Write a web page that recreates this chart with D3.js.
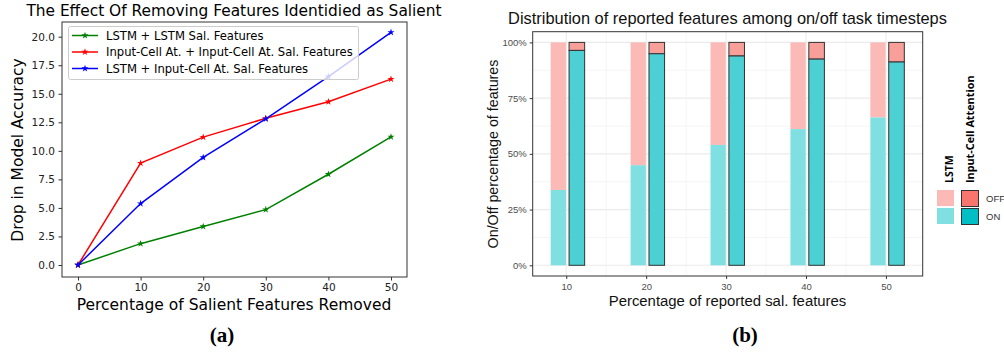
<!DOCTYPE html>
<html>
<head>
<meta charset="utf-8">
<script src="https://cdnjs.cloudflare.com/ajax/libs/d3/7.8.5/d3.min.js"></script>
<style>
body { margin:0; background:#fff; }
svg { display:block; }
</style>
</head>
<body>
<svg id="fig" width="1004" height="353"></svg>
<script>
// ---- data (a) ----
var removed = [0, 10, 20, 30, 40, 50];
var lstmLstm = [0, 1.87, 3.37, 4.85, 7.95, 11.22];
var cellCell = [0, 8.92, 11.2, 12.85, 14.3, 16.28];
var lstmCell = [0, 5.38, 9.42, 12.8, 16.5, 20.38];
var seriesNames = ["LSTM + LSTM Sal. Features", "Input-Cell At. + Input-Cell At. Sal. Features", "LSTM + Input-Cell At. Sal. Features"];
var seriesColors = ["green", "red", "blue"];
var yTicksA = [0, 2.5, 5, 7.5, 10, 12.5, 15, 17.5, 20];

// ---- data (b) ----
var reported = [10, 20, 30, 40, 50];
var lstmOn = [0.338, 0.449, 0.54, 0.611, 0.663];
var cellOn = [0.964, 0.949, 0.939, 0.925, 0.912];
var yTicksB = [0, 0.25, 0.5, 0.75, 1];

var svg = d3.select("#fig");

// ================= chart (a) =================
var x1 = d3.scaleLinear().domain([0, 50]).range([78, 391]);
var y1 = d3.scaleLinear().domain([0, 20]).range([265, 36.7]);
var ga = svg.append("g");

ga.append("text")
  .attr("x", 234).attr("y", 16)
  .attr("text-anchor", "middle")
  .style("font-family", "DejaVu Sans").style("font-size", "15.4px")
  .text("The Effect Of Removing Features Identidied as Salient");

var xAxA = d3.axisBottom(x1).tickValues(removed).tickSize(3.5).tickPadding(3.5).tickFormat(d3.format("d"));
ga.append("g").attr("transform", "translate(0,277)").call(xAxA)
  .call(function(g){ g.select(".domain").remove(); })
  .selectAll("text").style("font-family", "DejaVu Sans").style("font-size", "10.5px").attr("fill", "#222");

var yAxA = d3.axisLeft(y1).tickValues(yTicksA).tickSize(3.5).tickPadding(3.5).tickFormat(d3.format(".1f"));
ga.append("g").attr("transform", "translate(62,0)").call(yAxA)
  .call(function(g){ g.select(".domain").remove(); })
  .selectAll("text").style("font-family", "DejaVu Sans").style("font-size", "10.5px").attr("fill", "#222");
ga.selectAll(".tick line").attr("stroke", "#333");

ga.append("rect")
  .attr("x", 62).attr("y", 22).attr("width", 345).attr("height", 255)
  .attr("fill", "none").attr("stroke", "#333").attr("stroke-width", 1);

ga.append("text")
  .attr("transform", "translate(23,150)rotate(-90)")
  .attr("text-anchor", "middle")
  .style("font-family", "DejaVu Sans").style("font-size", "15.5px")
  .text("Drop in Model Accuracy");
ga.append("text")
  .attr("x", 234).attr("y", 310)
  .attr("text-anchor", "middle")
  .style("font-family", "DejaVu Sans").style("font-size", "15.5px")
  .text("Percentage of Salient Features Removed");

var lineA = d3.line()
  .x(function(d, i){ return x1(removed[i]); })
  .y(function(d){ return y1(d); });
var star = d3.symbol().type(d3.symbolStar).size(16);

[lstmLstm, cellCell, lstmCell].forEach(function(s, k){
  ga.append("path").datum(s)
    .attr("fill", "none").attr("stroke", seriesColors[k]).attr("stroke-width", 1.5)
    .attr("d", lineA);
  ga.selectAll(".m" + k).data(s).enter().append("path")
    .attr("class", "m" + k)
    .attr("transform", function(d, i){ return "translate(" + x1(removed[i]) + "," + y1(d) + ")"; })
    .attr("d", star).attr("fill", seriesColors[k]);
});

// legend (a)
var lg = ga.append("g");
lg.append("rect").attr("x", 68.5).attr("y", 26.5).attr("width", 290).attr("height", 53).attr("rx", 2)
  .attr("fill", "#fff").attr("fill-opacity", 0.8).attr("stroke", "#ccc");
seriesNames.forEach(function(n, k){
  var yy = 35.5 + k * 16.5;
  lg.append("line").attr("x1", 72).attr("x2", 98).attr("y1", yy).attr("y2", yy)
    .attr("stroke", seriesColors[k]).attr("stroke-width", 1.5);
  lg.append("path").attr("transform", "translate(85," + yy + ")").attr("d", star).attr("fill", seriesColors[k]);
  lg.append("text").attr("x", 106).attr("y", yy + 4.2)
    .style("font-family", "DejaVu Sans").style("font-size", "11.6px")
    .text(n);
});

// ================= chart (b) =================
var x2 = d3.scaleLinear().domain([5.8, 54.6]).range([532.7, 922.7]);
var y2 = d3.scaleLinear().domain([-0.048, 1.048]).range([276, 31.7]);
var gb = svg.append("g");

gb.append("text")
  .attr("x", 727.5).attr("y", 24)
  .attr("text-anchor", "middle")
  .style("font-family", "Liberation Sans").style("font-size", "16.4px").attr("fill", "#111")
  .text("Distribution of reported features among on/off task timesteps");

// grid
var minorX = [15, 25, 35, 45];
var minorY = [0.125, 0.375, 0.625, 0.875];
gb.selectAll(".gxm").data(minorX).enter().append("line")
  .attr("x1", function(d){ return x2(d); }).attr("x2", function(d){ return x2(d); })
  .attr("y1", 31.7).attr("y2", 276).attr("stroke", "#f2f2f2").attr("stroke-width", 0.8);
gb.selectAll(".gym").data(minorY).enter().append("line")
  .attr("y1", function(d){ return y2(d); }).attr("y2", function(d){ return y2(d); })
  .attr("x1", 532.7).attr("x2", 922.7).attr("stroke", "#f2f2f2").attr("stroke-width", 0.8);
gb.selectAll(".gx").data(reported).enter().append("line")
  .attr("x1", function(d){ return x2(d); }).attr("x2", function(d){ return x2(d); })
  .attr("y1", 31.7).attr("y2", 276).attr("stroke", "#ebebeb").attr("stroke-width", 1.1);
gb.selectAll(".gy").data(yTicksB).enter().append("line")
  .attr("y1", function(d){ return y2(d); }).attr("y2", function(d){ return y2(d); })
  .attr("x1", 532.7).attr("x2", 922.7).attr("stroke", "#ebebeb").attr("stroke-width", 1.1);

// bars: LSTM (no outline) and Input-Cell Attention (outlined)
var bw = 1.95;
reported.forEach(function(r, i){
  var xa = x2(r - bw), xb = x2(r - 0.04);
  gb.append("rect").attr("x", xa).attr("width", xb - xa)
    .attr("y", y2(1)).attr("height", y2(lstmOn[i]) - y2(1)).attr("fill", "#fbbab6");
  gb.append("rect").attr("x", xa).attr("width", xb - xa)
    .attr("y", y2(lstmOn[i])).attr("height", y2(0) - y2(lstmOn[i])).attr("fill", "#7fdfe1");
  var xc = x2(r + 0.35), xd = x2(r + 0.35 + bw);
  gb.append("rect").attr("x", xc).attr("width", xd - xc)
    .attr("y", y2(1)).attr("height", y2(cellOn[i]) - y2(1))
    .attr("fill", "#f89f99").attr("stroke", "#333").attr("stroke-width", 1);
  gb.append("rect").attr("x", xc).attr("width", xd - xc)
    .attr("y", y2(cellOn[i])).attr("height", y2(0) - y2(cellOn[i]))
    .attr("fill", "#4dd0d4").attr("stroke", "#333").attr("stroke-width", 1);
});

gb.append("rect").attr("x", 532.7).attr("y", 31.7).attr("width", 390).attr("height", 244.3)
  .attr("fill", "none").attr("stroke", "#333").attr("stroke-width", 1);

var xAxB = d3.axisBottom(x2).tickValues(reported).tickSize(3).tickPadding(4);
gb.append("g").attr("transform", "translate(0,276)").call(xAxB)
  .call(function(g){ g.select(".domain").remove(); })
  .selectAll("text").style("font-family", "Liberation Sans").style("font-size", "9.5px").attr("fill", "#4d4d4d");
var yAxB = d3.axisLeft(y2).tickValues(yTicksB).tickSize(3).tickPadding(3).tickFormat(d3.format(".0%"));
gb.append("g").attr("transform", "translate(532.7,0)").call(yAxB)
  .call(function(g){ g.select(".domain").remove(); })
  .selectAll("text").style("font-family", "Liberation Sans").style("font-size", "9.5px").attr("fill", "#4d4d4d");
gb.selectAll(".tick line").attr("stroke", "#333");

gb.append("text")
  .attr("transform", "translate(498,154)rotate(-90)")
  .attr("text-anchor", "middle")
  .style("font-family", "Liberation Sans").style("font-size", "14.3px").attr("fill", "#111")
  .text("On/Off percentage of features");
gb.append("text")
  .attr("x", 727.5).attr("y", 306)
  .attr("text-anchor", "middle")
  .style("font-family", "Liberation Sans").style("font-size", "14.9px").attr("fill", "#111")
  .text("Percentage of reported sal. features");

// legend (b)
var lb = gb.append("g");
lb.append("text").attr("transform", "translate(953,183)rotate(-90)")
  .style("font-family", "Open Sans").style("font-weight", "bold").style("font-size", "10.5px")
  .text("LSTM");
lb.append("text").attr("transform", "translate(974,183)rotate(-90)")
  .style("font-family", "Open Sans").style("font-weight", "bold").style("font-size", "10.8px")
  .text("Input-Cell Attention");
var keyLabels = ["OFF", "ON"];
keyLabels.forEach(function(t, k){
  var yy = 190 + k * 18;
  lb.append("rect").attr("x", 937).attr("y", yy).attr("width", 17).attr("height", 16)
    .attr("fill", k ? "#7fdfe1" : "#fbbab6");
  lb.append("rect").attr("x", 961.5).attr("y", yy + 0.5).attr("width", 17).attr("height", 16)
    .attr("fill", k ? "#00bfc4" : "#f8766d").attr("stroke", "#333");
  lb.append("text").attr("x", 986).attr("y", yy + 12)
    .style("font-family", "Liberation Sans").style("font-size", "9.5px").attr("fill", "#333")
    .text(t);
});

// captions
svg.append("text").attr("x", 222).attr("y", 342).attr("text-anchor", "middle")
  .style("font-family", "Liberation Serif").style("font-weight", "bold").style("font-size", "21px")
  .text("(a)");
svg.append("text").attr("x", 745).attr("y", 342).attr("text-anchor", "middle")
  .style("font-family", "Liberation Serif").style("font-weight", "bold").style("font-size", "21px")
  .text("(b)");
</script>
</body>
</html>
